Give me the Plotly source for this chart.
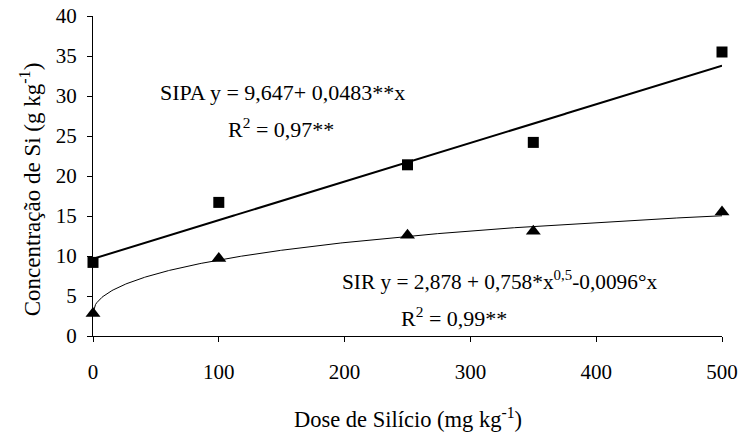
import numpy as np
import plotly.graph_objects as go

doses = [0, 100, 250, 350, 500]
sipa = [9.2, 16.7, 21.4, 24.2, 35.5]
sir = [2.8, 9.7, 12.6, 13.1, 15.5]

# regression coefficients printed on the chart
sipa_coef = [9.647, 0.0483]          # a + b*x
sir_coef = [2.878, 0.758, -0.0096]   # a + b*x^0.5 + c*x

xs = np.linspace(0, 500, 501)
sipa_fit = sipa_coef[0] + sipa_coef[1] * xs
sir_fit = sir_coef[0] + sir_coef[1] * np.sqrt(xs) + sir_coef[2] * xs

FONT = "Liberation Serif"

fig = go.Figure()
fig.add_trace(go.Scatter(x=xs, y=sipa_fit, mode="lines",
                         line=dict(color="black", width=2), hoverinfo="skip", showlegend=False))
fig.add_trace(go.Scatter(x=xs, y=sir_fit, mode="lines",
                         line=dict(color="black", width=1), hoverinfo="skip", showlegend=False))
fig.add_trace(go.Scatter(x=doses, y=sipa, mode="markers", name="SIPA",
                         marker=dict(symbol="square", size=11, color="black"),
                         cliponaxis=False, showlegend=False))
fig.add_trace(go.Scatter(x=doses, y=sir, mode="markers", name="SIR",
                         marker=dict(symbol="triangle-up", size=13, color="black"),
                         cliponaxis=False, showlegend=False))

ann_font = dict(family=FONT, size=22, color="black")
fig.add_annotation(x=0.103, y=0.7625, xref="paper", yref="paper", xanchor="left", yanchor="middle",
                   text="SIPA y = 9,647+ 0,0483**x", showarrow=False, font=ann_font)
fig.add_annotation(x=0.299, y=0.65, xref="paper", yref="paper", xanchor="center", yanchor="middle",
                   text="R<sup>2</sup> = 0,97**", showarrow=False, font=ann_font)
fig.add_annotation(x=0.393, y=0.175, xref="paper", yref="paper", xanchor="left", yanchor="middle",
                   text="SIR y = 2,878 + 0,758*x<sup>0,5</sup>-0,0096°x", showarrow=False,
                   font=dict(family=FONT, size=21.3, color="black"))
fig.add_annotation(x=0.574, y=0.059, xref="paper", yref="paper", xanchor="center", yanchor="middle",
                   text="R<sup>2</sup> = 0,99**", showarrow=False, font=ann_font)

# axis titles
fig.add_annotation(x=0.5, y=-0.256, xref="paper", yref="paper", xanchor="center", yanchor="middle",
                   text="Dose de Silício (mg kg<sup>-1</sup>)", showarrow=False,
                   font=dict(family=FONT, size=22.5, color="black"))
fig.add_annotation(x=-0.1, y=0.459, xref="paper", yref="paper", xanchor="center", yanchor="middle",
                   text="Concentração de Si (g kg<sup>-1</sup>)", showarrow=False, textangle=-90,
                   font=dict(family=FONT, size=23, color="black"))

axis_common = dict(showline=True, linecolor="black", linewidth=1, ticks="outside",
                   tickcolor="black", ticklen=5, tickwidth=1, showgrid=False, zeroline=False,
                   automargin=False, ticklabeloverflow="allow",
                   tickfont=dict(family=FONT, size=21, color="black"))
fig.update_xaxes(range=[0, 500], tickvals=[0, 100, 200, 300, 400, 500],
                 ticklabelstandoff=12, **axis_common)
fig.update_yaxes(range=[0, 40], tickvals=list(range(0, 41, 5)),
                 ticklabelstandoff=6, **axis_common)
fig.update_layout(width=738, height=432, plot_bgcolor="white", paper_bgcolor="white",
                  margin=dict(l=93, r=16, t=16, b=96))
fig.write_html("out.html", config={"displayModeBar": False},
               post_script="document.body.style.margin='0';")
